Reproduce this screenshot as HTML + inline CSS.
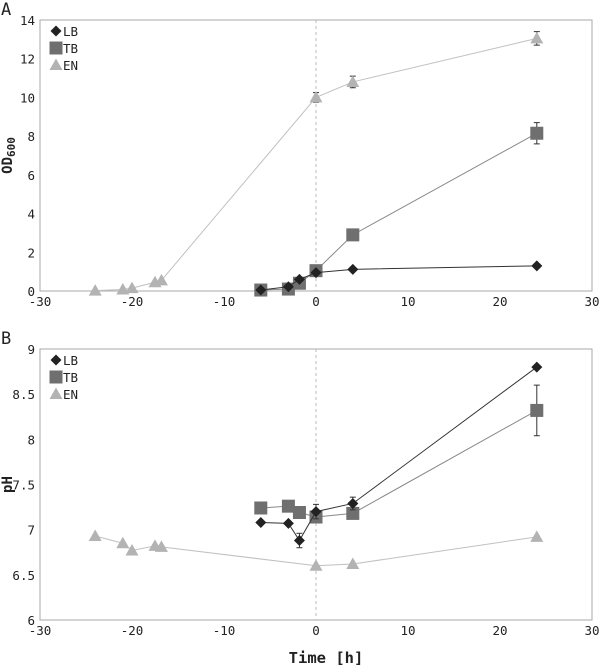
<!DOCTYPE html>
<html><head><meta charset="utf-8"><style>
body{margin:0;background:#fff}
svg text{font-family:"DejaVu Sans Mono","Liberation Mono",monospace}
</style></head><body>
<svg id="c" width="600" height="667" xmlns="http://www.w3.org/2000/svg"></svg>
<script>
const xTicks=[-30,-20,-10,0,10,20,30];
const aYTicks=[0,2,4,6,8,10,12,14];
const bYTicks=[6,6.5,7,7.5,8,8.5,9];
const bYLabels=["6","6.5","7","7.5","8","8.5","9"];
const aLBx=[-6,-3,-1.8,0,4,24];
const aLBy=[0.05,0.22,0.6,0.95,1.12,1.3];
const aTBx=[-6,-3,-1.8,0,4,24];
const aTBy=[0.05,0.1,0.4,1.05,2.9,8.15];
const aTBe=[0,0,0,0,0,0.55];
const aENx=[-24,-21,-20,-17.5,-16.8,0,4,24];
const aENy=[0.02,0.08,0.15,0.45,0.55,10,10.8,13.05];
const aENe=[0,0,0,0,0,0.25,0.3,0.35];
const bLBx=[-6,-3,-1.8,0,4,24];
const bLBy=[7.08,7.07,6.88,7.2,7.29,8.8];
const bLBe=[0,0,0.08,0.08,0.07,0];
const bTBx=[-6,-3,-1.8,0,4,24];
const bTBy=[7.24,7.26,7.19,7.14,7.18,8.32];
const bTBe=[0,0,0,0,0,0.28];
const bENx=[-24,-21,-20,-17.5,-16.8,0,4,24];
const bENy=[6.93,6.85,6.77,6.82,6.81,6.6,6.62,6.92];

const svg=document.getElementById('c');
const NS='http://www.w3.org/2000/svg';
function mk(tag,attrs,parent){const e=document.createElementNS(NS,tag);for(const k in attrs)e.setAttribute(k,attrs[k]);(parent||svg).appendChild(e);return e;}
const L=40,R=592;
function xs(v){return L+(v+30)/60*(R-L);}
const COL={LB:'#222',TB:'#6f6f6f',EN:'#b3b3b3'};
const LINE={LB:'#333',TB:'#888',EN:'#c0c0c0'};

function panel(id,top,bot,ymin,ymax,yt,ylab,letter,ytitle,series){
  const g=mk('g',{});
  
  
  const ys=v=>bot-(v-ymin)/(ymax-ymin)*(bot-top);
  const fr=mk('rect',{x:L,y:top,width:R-L,height:bot-top,fill:'none',stroke:'#a8a8a8','stroke-width':1},g);
  
  const zl=mk('line',{x1:xs(0),x2:xs(0),y1:top,y2:bot,stroke:'#bbb','stroke-dasharray':'3,3'},g);
  
  xTicks.forEach(t=>{const e=mk('text',{x:xs(t),y:bot+15,'font-size':12.5,'text-anchor':'middle',fill:'#222'},g);e.textContent=t;
    });
  yt.forEach((t,i)=>{const e=mk('text',{x:L-5,y:ys(t)+5,'font-size':12.5,'text-anchor':'end',fill:'#222'},g);e.textContent=ylab[i];
    });
  const lt=mk('text',{x:1,y:top-5,'font-size':17,fill:'#222','font-family':'Liberation Sans, sans-serif'},g);lt.textContent=letter;
  
  const cy=(top+bot)/2;
  const yt2=mk('text',{x:12,y:cy,'font-size':14,'font-weight':'bold','text-anchor':'middle',transform:`rotate(-90 12 ${cy})`,fill:'#222'},g);
  yt2.innerHTML=ytitle;
  
  series.forEach(s=>{
    const sg=mk('g',{},g);
    
    
    const pts=s.x.map((x,i)=>xs(x)+','+ys(s.y[i])).join(' ');
    mk('polyline',{points:pts,fill:'none',stroke:LINE[s.name],'stroke-width':1},sg);
    s.x.forEach((x,i)=>{
      const e=s.e?s.e[i]:0;
      if(e>0){const px=xs(x);
        mk('line',{x1:px,x2:px,y1:ys(s.y[i]+e),y2:ys(s.y[i]-e),stroke:'#333'},sg);
        mk('line',{x1:px-3,x2:px+3,y1:ys(s.y[i]+e),y2:ys(s.y[i]+e),stroke:'#333'},sg);
        mk('line',{x1:px-3,x2:px+3,y1:ys(s.y[i]-e),y2:ys(s.y[i]-e),stroke:'#333'},sg);}
      const m=marker(s.name,xs(x),ys(s.y[i]),sg);
      
      
    });
  });
  ['LB','TB','EN'].forEach((n,i)=>{
    const ly=top+11+i*17;
    const lg=mk('g',{},g);
    
    
    marker(n,L+16,ly,lg);
    const t=mk('text',{x:L+23,y:ly+5,'font-size':12.5,fill:'#222'},lg);t.textContent=n;
  });
}
function marker(n,x,y,p){
  if(n==='LB')return mk('polygon',{points:`${x},${y-5.5} ${x+5.5},${y} ${x},${y+5.5} ${x-5.5},${y}`,fill:COL.LB},p);
  if(n==='TB')return mk('rect',{x:x-6.5,y:y-6.5,width:13,height:13,fill:COL.TB},p);
  return mk('polygon',{points:`${x},${y-6.5} ${x+6.5},${y+5} ${x-6.5},${y+5}`,fill:COL.EN},p);
}
panel('panel-a-od600',20,291,0,14,aYTicks,aYTicks.map(String),'A','OD<tspan font-size="11" dy="3">600</tspan>',[
  {name:'EN',x:aENx,y:aENy,e:aENe},{name:'TB',x:aTBx,y:aTBy,e:aTBe},{name:'LB',x:aLBx,y:aLBy}]);
panel('panel-b-ph',349,620,6,9,bYTicks,bYLabels,'B','pH',[
  {name:'EN',x:bENx,y:bENy},{name:'TB',x:bTBx,y:bTBy,e:bTBe},{name:'LB',x:bLBx,y:bLBy,e:bLBe}]);
const xt=mk('text',{x:326,y:663,'font-size':15.5,'font-weight':'bold','text-anchor':'middle',fill:'#222'});
xt.textContent='Time [h]';


</script>
</body></html>
